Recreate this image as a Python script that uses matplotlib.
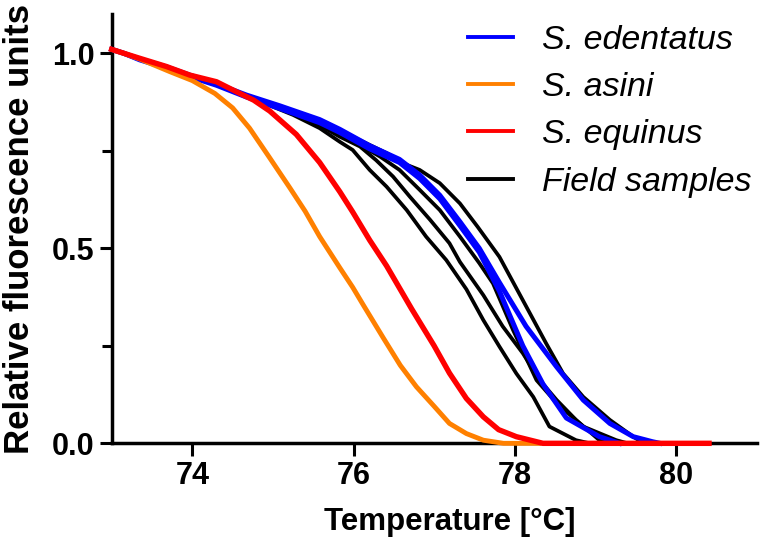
import matplotlib
matplotlib.use('Agg')
import matplotlib.pyplot as plt
from matplotlib.lines import Line2D
from matplotlib.ticker import MultipleLocator

plt.rcParams['font.family'] = ['Liberation Sans', 'DejaVu Sans']

# melt curves (temperature in C, relative fluorescence)
edentatus_t1 = [73.0, 73.15, 73.35, 73.68, 73.97, 74.3, 74.67, 75.09, 75.58, 75.83, 76.2, 76.57,
                76.82, 77.07, 77.32, 77.56, 77.81, 78.14, 78.52, 78.85, 79.18, 79.47, 79.71, 79.8]
edentatus_v1 = [1.01, 1.0, 0.985, 0.965, 0.944, 0.922, 0.893, 0.865, 0.83, 0.805, 0.763, 0.728,
                0.688, 0.636, 0.568, 0.5, 0.412, 0.3, 0.196, 0.111, 0.051, 0.017, 0.004, 0.0]
edentatus_t2 = [73.0, 73.15, 73.35, 73.68, 73.97, 74.3, 74.67, 75.09, 75.58, 75.83, 76.2, 76.57,
                76.82, 77.07, 77.32, 77.56, 77.81, 78.1, 78.35, 78.64, 79.05, 79.3]
edentatus_v2 = [1.01, 1.0, 0.983, 0.962, 0.94, 0.918, 0.888, 0.858, 0.822, 0.797, 0.755, 0.72,
                0.679, 0.627, 0.558, 0.49, 0.39, 0.25, 0.152, 0.065, 0.017, 0.0]

asini_t = [73.0, 73.15, 73.35, 73.72, 74.0, 74.28, 74.5, 74.71, 74.95, 75.21, 75.4, 75.58,
           75.83, 75.99, 76.12, 76.37, 76.58, 76.78, 77.0, 77.19, 77.4, 77.61, 77.86, 78.3]
asini_v = [1.01, 1.0, 0.985, 0.953, 0.93, 0.897, 0.86, 0.808, 0.735, 0.655, 0.595, 0.53,
           0.45, 0.4, 0.355, 0.27, 0.2, 0.145, 0.095, 0.051, 0.025, 0.008, 0.0, 0.0]

equinus_t = [73.0, 73.15, 73.35, 73.68, 73.97, 74.3, 74.59, 74.76, 74.96, 75.29, 75.58, 75.83,
             75.99, 76.2, 76.41, 76.72, 77.0, 77.19, 77.4, 77.61, 77.8, 78.02, 78.35, 80.41]
equinus_v = [1.01, 1.0, 0.987, 0.966, 0.944, 0.927, 0.897, 0.88, 0.852, 0.792, 0.72, 0.645,
             0.593, 0.521, 0.455, 0.345, 0.25, 0.18, 0.115, 0.068, 0.035, 0.017, 0.0, 0.0]

field_a_t = [73.0, 73.15, 73.35, 73.68, 73.97, 74.3, 74.6, 75.0, 75.25, 75.58, 75.83, 75.99, 76.2,
             76.41, 76.66, 76.9, 77.15, 77.4, 77.61, 77.81, 78.02, 78.23, 78.43, 78.76, 78.93]
field_a_v = [1.01, 1.0, 0.985, 0.965, 0.944, 0.922, 0.897, 0.863, 0.842, 0.808, 0.773, 0.752, 0.701,
             0.658, 0.598, 0.53, 0.47, 0.395, 0.316, 0.248, 0.179, 0.119, 0.043, 0.008, 0.0]
field_b_t = [73.0, 73.15, 73.35, 73.68, 73.97, 74.3, 74.6, 75.0, 75.3, 75.58, 75.83, 76.08, 76.28,
             76.49, 76.7, 76.95, 77.19, 77.32, 77.61, 77.85, 78.1, 78.31, 78.52, 78.76, 79.05, 79.2]
field_b_v = [1.01, 1.0, 0.985, 0.965, 0.944, 0.922, 0.897, 0.865, 0.845, 0.816, 0.786, 0.761, 0.726,
             0.684, 0.632, 0.573, 0.513, 0.465, 0.38, 0.3, 0.231, 0.162, 0.111, 0.06, 0.008, 0.0]
field_c_t = [73.0, 73.15, 73.35, 73.68, 73.97, 74.3, 74.6, 75.0, 75.3, 75.58, 75.83, 76.08, 76.33,
             76.57, 76.82, 77.07, 77.32, 77.56, 77.73, 77.98, 78.27, 78.52, 78.85, 79.26, 79.4]
field_c_v = [1.01, 1.0, 0.985, 0.965, 0.944, 0.922, 0.897, 0.865, 0.845, 0.825, 0.8, 0.765, 0.735,
             0.701, 0.65, 0.598, 0.53, 0.462, 0.41, 0.29, 0.162, 0.103, 0.043, 0.008, 0.0]
field_d_t = [73.0, 73.15, 73.35, 73.68, 73.97, 74.3, 74.6, 75.0, 75.3, 75.58, 75.99, 76.41, 76.66,
             76.82, 77.07, 77.32, 77.54, 77.81, 78.1, 78.39, 78.6, 78.85, 79.18, 79.47, 79.6]
field_d_v = [1.01, 1.0, 0.985, 0.965, 0.944, 0.922, 0.897, 0.865, 0.848, 0.829, 0.786, 0.744, 0.714,
             0.701, 0.667, 0.615, 0.555, 0.478, 0.367, 0.256, 0.179, 0.119, 0.06, 0.017, 0.0]

labels = ['S. edentatus', 'S. asini', 'S. equinus', 'Field samples']
colors = ['#0000FF', '#FF8000', '#FF0000', '#000000']

fig = plt.figure(figsize=(7.65, 5.49), dpi=100)
ax = fig.add_axes([0.146, 0.1925, 0.843, 0.7815])

for t, v in [(field_a_t, field_a_v), (field_b_t, field_b_v),
             (field_c_t, field_c_v), (field_d_t, field_d_v)]:
    ax.plot(t, v, color=colors[3], lw=2.7, zorder=3, clip_on=False)
ax.plot(edentatus_t1, edentatus_v1, color=colors[0], lw=3.6, zorder=4, clip_on=False)
ax.plot(edentatus_t2, edentatus_v2, color=colors[0], lw=3.6, zorder=4, clip_on=False)
ax.plot(asini_t, asini_v, color=colors[1], lw=3.5, zorder=5, clip_on=False)
ax.plot(equinus_t, equinus_v, color=colors[2], lw=3.9, zorder=6, clip_on=False)

ax.set_xlim(73, 81)
ax.set_ylim(0, 1.1)
ax.set_xticks([74, 76, 78, 80])
ax.set_yticks([0.0, 0.5, 1.0])
ax.set_yticklabels(['0.0', '0.5', '1.0'])
ax.yaxis.set_minor_locator(MultipleLocator(0.25))

for side in ['top', 'right']:
    ax.spines[side].set_visible(False)
for side in ['left', 'bottom']:
    ax.spines[side].set_linewidth(2.5)

ax.tick_params(which='major', direction='out', length=9, width=2.2, pad=3.5,
               labelsize=22)
ax.tick_params(which='minor', direction='out', length=7, width=2.2)
for lab in ax.get_xticklabels() + ax.get_yticklabels():
    lab.set_fontweight('bold')

ax.set_xlabel('Temperature [°C]', fontsize=22.5, fontweight='bold')
ax.set_ylabel('Relative fluorescence units', fontsize=25, fontweight='bold')
ax.xaxis.set_label_coords(0.5245, -0.148)
ax.yaxis.set_label_coords(-0.117, 0.5)

handles = [Line2D([], [], color=c, lw=2.8) for c in colors]
ax.legend(handles, labels, loc='upper left', bbox_to_anchor=(0.5896, 0.986),
          bbox_transform=fig.transFigure, frameon=False, borderpad=0,
          prop={'style': 'italic', 'size': 24.5}, handlelength=1.33,
          handletextpad=0.84, labelspacing=0.48)

fig.savefig('out.png', dpi=100)
